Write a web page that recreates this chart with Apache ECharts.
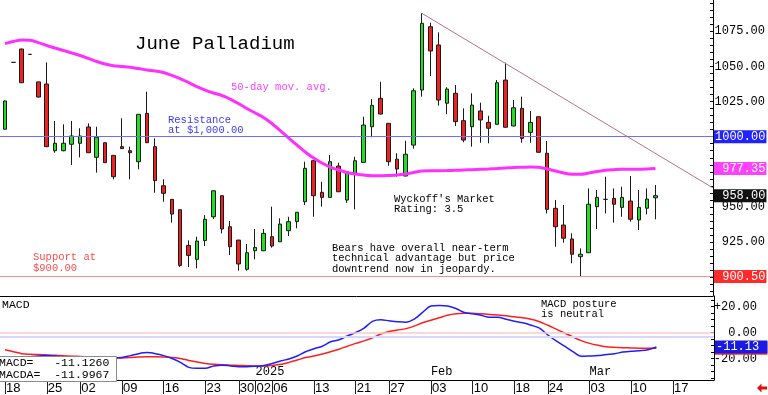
<!DOCTYPE html>
<html><head><meta charset="utf-8">
<script src="https://cdn.jsdelivr.net/npm/echarts@6/dist/echarts.min.js"></script>
<style>html,body{margin:0;padding:0;background:#fff}#c{width:768px;height:395px}</style>
</head><body><div id="c"></div>
<script>
// ---- data ----
const tradingDays = [
'2024-11-18','2024-11-19','2024-11-20','2024-11-21','2024-11-22',
'2024-11-25','2024-11-26','2024-11-27','2024-11-29',
'2024-12-02','2024-12-03','2024-12-04','2024-12-05','2024-12-06',
'2024-12-09','2024-12-10','2024-12-11','2024-12-12','2024-12-13',
'2024-12-16','2024-12-17','2024-12-18','2024-12-19','2024-12-20',
'2024-12-23','2024-12-24','2024-12-26','2024-12-27',
'2024-12-30','2024-12-31','2025-01-02','2025-01-03',
'2025-01-06','2025-01-07','2025-01-08','2025-01-09','2025-01-10',
'2025-01-13','2025-01-14','2025-01-15','2025-01-16','2025-01-17',
'2025-01-21','2025-01-22','2025-01-23','2025-01-24',
'2025-01-27','2025-01-28','2025-01-29','2025-01-30','2025-01-31',
'2025-02-03','2025-02-04','2025-02-05','2025-02-06','2025-02-07',
'2025-02-10','2025-02-11','2025-02-12','2025-02-13','2025-02-14',
'2025-02-18','2025-02-19','2025-02-20','2025-02-21',
'2025-02-24','2025-02-25','2025-02-26','2025-02-27','2025-02-28',
'2025-03-03','2025-03-04','2025-03-05','2025-03-06','2025-03-07',
'2025-03-10','2025-03-11','2025-03-12','2025-03-13',
'2025-03-14','2025-03-17','2025-03-18','2025-03-19','2025-03-20','2025-03-21'];

const opens = [1005.3,1052.9,1062.4,1058.6,1039.0,1037.5,990.0,990.0,994.6,995.3,
1006.9,985.3,995.7,986.7,992.9,990.0,982.2,1016.6,992.9,965.1,
955.4,948.0,922.6,912.7,926.0,943.0,958.0,935.9,926.4,905.6,
918.8,918.8,928.8,925.2,933.1,939.5,953.7,982.9,960.4,956.8,
979.1,954.9,973.9,981.7,1007.1,1027.3,1009.5,984.0,972.0,994.0,
1033.2,1078.3,1065.3,1023.8,1030.9,1011.4,1007.1,1018.3,1010.2,1008.8,
1040.3,1007.6,1020.2,1003.1,1014.2,988.2,949.0,937.1,927.2,914.6,
917.4,950.2,955.4,956.1,949.7,954.2,940.7,949.1,956.5];
const closes = [1025.4,1052.9,1038.4,1058.6,1028.2,992.9,995.3,995.3,1000.5,1000.5,
988.6,999.6,981.5,971.5,991.5,988.6,1015.9,995.7,968.7,959.7,
944.9,908.4,915.5,925.7,941.2,961.5,934.3,921.7,909.4,917.4,
921.2,931.2,922.2,937.8,939.5,946.2,977.5,958.0,956.8,982.2,
960.8,975.1,982.9,1008.3,1022.3,1016.1,982.2,977.0,987.5,1032.7,
1080.7,1061.0,1026.1,1033.9,1010.7,997.6,1022.5,1011.9,1006.0,1038.4,
1006.7,1020.6,998.8,1010.2,988.9,948.3,935.9,927.7,916.3,916.3,
951.9,956.8,955.4,951.9,956.8,941.2,949.7,955.6,958.0];
const lows = [1005.0,1052.9,1038.2,1058.6,1028.0,992.7,988.6,989.6,979.8,985.3,
988.4,974.4,981.3,969.7,991.3,969.7,976.8,995.5,960.1,953.7,
938.8,907.2,907.2,906.3,922.2,941.4,931.2,915.8,904.6,904.6,
912.7,918.6,921.0,925.0,929.3,934.8,951.4,943.0,950.2,956.6,
960.6,952.9,948.3,981.5,999.6,1015.9,979.3,971.5,971.8,991.5,
1028.5,1043.2,1022.1,1016.0,1007.6,996.0,992.9,995.7,995.3,1008.6,
1006.5,1007.4,995.7,995.7,988.7,945.4,921.7,924.5,909.9,900.3,
917.2,934.3,945.4,938.8,943.0,939.5,933.6,944.7,941.2];
const highs = [1025.8,1052.9,1062.6,1058.6,1039.2,1052.9,1011.2,1008.8,1011.2,1006.0,
1009.5,1007.1,995.9,986.9,1013.1,992.9,1016.1,1032.0,998.8,969.7,
955.6,948.2,926.2,928.8,944.2,961.7,958.2,940.0,926.6,923.6,
934.3,934.3,950.2,941.9,943.0,946.4,982.2,983.1,968.0,987.0,
981.5,975.3,985.7,1014.2,1026.8,1039.1,1009.7,988.2,997.1,1034.4,
1087.8,1081.2,1074.3,1035.2,1036.8,1020.2,1030.9,1024.2,1014.9,1040.3,
1052.7,1026.1,1028.5,1018.3,1014.4,996.9,955.0,951.4,931.2,920.5,
963.2,962.0,971.5,963.2,964.4,972.0,962.0,963.2,965.6];

const ma50 = [1066.3,1067.8,1068.8,1068.6,1067.0,1064.9,1063.1,1061.4,1059.6,1057.8,
1055.7,1053.5,1051.7,1050.5,1050.0,1049.4,1048.5,1047.5,1046.8,1045.7,
1043.6,1041.4,1038.6,1035.7,1033.2,1031.1,1029.3,1026.8,1023.6,1020.1,
1016.9,1013.7,1009.4,1004.4,999.1,994.1,989.1,984.8,981.3,978.4,
976.3,974.5,973.4,972.7,972.2,972.2,972.4,972.7,973.4,974.5,
975.6,975.8,975.8,975.9,976.1,976.3,976.5,976.8,977.0,977.3,
977.7,978.1,978.2,978.4,978.2,977.0,975.6,974.1,973.2,973.2,
974.1,975.2,976.1,976.5,976.8,976.8,976.8,977.0,977.35];

const macdLine = [-19,-19,-18.5,-18.5,-18,-17.5,-18,-18.5,-18.5,-18.5,
-18.5,-18.5,-19,-19.5,-19.2,-17.7,-16.2,-15.4,-16.2,-17.7,
-19.9,-22.9,-26.7,-27.4,-27.4,-25.6,-25,-25.6,-26.2,-26.3,
-25.9,-25.2,-23.7,-21.8,-20.3,-18,-14.7,-12.4,-10.5,-7.1,
-5.6,-2.6,0,3.4,8.6,9.8,9,8.3,7.9,10.2,
15.4,20.3,20.7,20.3,18.4,15.4,14.3,13.2,11.7,11.7,
10.2,8.6,7.5,5.6,3.4,-1.9,-6.4,-10.5,-14.7,-18.2,
-18,-17.7,-16.9,-16.2,-15,-14.3,-13.9,-13.2,-11.126];
const macdAvg = [-13.2,-14.7,-16.2,-16.7,-16.9,-17.2,-17.5,-17.8,-18.1,-18.4,
-18.7,-19.0,-19.3,-19.6,-19.5,-19.2,-18.8,-18.6,-18.6,-18.8,
-19.2,-19.9,-21.4,-22.6,-23.7,-24.4,-24.8,-25,-25.2,-25.4,
-25.7,-25.7,-25.2,-24.4,-22.9,-21.1,-19.2,-18,-16.5,-14.7,
-12.8,-10.5,-8.3,-6.4,-4.1,-1.1,0.8,1.9,3,4.9,
7.5,9.4,11.3,13.2,14.3,14.7,14.7,14.3,13.9,13.4,
12.8,12,11.3,10.2,8.3,5.6,2.6,-0.4,-3.4,-6.2,
-8.3,-9.8,-10.9,-11.3,-11.6,-11.8,-12.0,-12.0,-11.9967];

const dayTickIndex = [0,5,9,14,19,24,28,30,32,37,42,46,51,56,61,65,70,75,80];
const periodTickIndex = [30,51,70];
const periodLabels = ['2025','Feb','Mar'];
const priceTickLabels = [900,925,950,1000,1025,1050,1075];
const macdTickLabels = [20,0,-20];
const resistanceLevel = 1000;
const supportLevel = 900.5;
const macdGuideLevels = [0,-3.6];
const trendlinePoints = [[50,1087.8],[84.9,963.5]];

// ---- build ----
const mono = '"Liberation Mono","DejaVu Sans Mono",monospace';
const n = closes.length;
const candleData = closes.map((c,i)=>[i,opens[i],c,lows[i],highs[i]]);
const xMin = -0.6, xMax = 84.9;
const priceMinor = []; for (let v=890; v<=1095; v+=5) priceMinor.push(v);
const macdMinor = []; for (let v=-35; v<=25; v+=5) macdMinor.push(v);
const pad7 = s => s.padStart(7,' ');
const clear = {color:'rgba(0,0,0,0)', width:1, type:'solid'};
function box(bg, text){
  return {show:true, position:'end', distance:1, formatter:text, color:'#fff',
    backgroundColor:bg, fontFamily:mono, fontSize:12, lineHeight:12, padding:[1,1,0,1]};
}
const lastMacd = macdLine[n-1], lastAvg = macdAvg[n-1];

const option = {
  animation:false,
  backgroundColor:'#fff',
  grid:[{left:0,top:0,width:714,height:296},{left:0,top:296,width:714,height:85}],
  xAxis:[
    {type:'value',gridIndex:0,min:xMin,max:xMax,position:'bottom',
     axisLine:{show:true,onZero:false,lineStyle:{color:'#000',width:1}},
     axisTick:{show:false},axisLabel:{show:false},splitLine:{show:false}},
    {type:'value',gridIndex:1,min:xMin,max:xMax,position:'bottom',
     axisLine:{show:true,onZero:false,lineStyle:{color:'#000',width:1}},
     axisTick:{show:true,customValues:dayTickIndex,length:14,lineStyle:{color:'#222'}},
     axisLabel:{show:true,customValues:dayTickIndex,hideOverlap:false,
       formatter:v=>tradingDays[Math.round(v)].slice(8,10),
       align:'left',margin:2,padding:[0,0,0,1],fontFamily:'"Liberation Sans",Arial,sans-serif',fontSize:13,color:'#000'},
     splitLine:{show:false}},
    {type:'value',gridIndex:1,min:xMin,max:xMax,position:'bottom',
     axisLine:{show:false,onZero:false},axisTick:{show:false},
     axisLabel:{show:true,inside:true,customValues:periodTickIndex,hideOverlap:false,
       formatter:v=>periodLabels[periodTickIndex.indexOf(Math.round(v))],
       align:'left',margin:2,fontFamily:mono,fontSize:12,color:'#000'},
     splitLine:{show:false}}
  ],
  yAxis:[
    {type:'value',gridIndex:0,position:'right',min:886.6,max:1097.3,
     axisLine:{show:true,onZero:false,lineStyle:{color:'#000'}},
     axisTick:{show:true,inside:true,length:3,customValues:priceMinor,lineStyle:{color:'#000'}},
     axisLabel:{customValues:priceTickLabels,formatter:v=>v.toFixed(2),align:'right',margin:52,
       fontFamily:mono,fontSize:12,color:'#000'},
     splitLine:{show:false}},
    {type:'value',gridIndex:1,position:'right',min:-36.4,max:28.0,
     axisLine:{show:true,onZero:false,lineStyle:{color:'#000'}},
     axisTick:{show:true,inside:true,length:3,customValues:macdMinor,lineStyle:{color:'#000'}},
     axisLabel:{customValues:macdTickLabels,formatter:v=>(v>0?'+':'')+v.toFixed(2),align:'right',margin:43,
       fontFamily:mono,fontSize:12,color:'#000'},
     splitLine:{show:false}}
  ],
  series:[
    {type:'candlestick',xAxisIndex:0,yAxisIndex:0,data:candleData,encode:{x:0,y:[1,2,3,4]},
     barWidth:4,clip:false,
     itemStyle:{color:'#22dd22',color0:'#ee2020',borderColor:'#1a1a1a',borderColor0:'#1a1a1a',borderColorDoji:'#1a1a1a',borderWidth:1},
     markLine:{symbol:'none',silent:true,animation:false,lineStyle:{type:'solid'},
       data:[
        {yAxis:resistanceLevel,lineStyle:{color:'#6e6eff',width:1,type:'solid'},label:box('#2222ff',pad7(resistanceLevel.toFixed(2)))},
        {yAxis:supportLevel,lineStyle:{color:'#ff8c8c',width:1,type:'solid'},label:box('#ff2a2a',pad7(supportLevel.toFixed(2)))},
        {yAxis:closes[n-1],lineStyle:clear,label:box('#111111',pad7(closes[n-1].toFixed(2)))},
        [{coord:trendlinePoints[0],lineStyle:{color:'#b8708f',width:1,type:'solid'},label:{show:false}},{coord:trendlinePoints[1]}]
       ]}},
    {type:'line',xAxisIndex:0,yAxisIndex:0,data:ma50.map((v,i)=>[i,v]),showSymbol:false,smooth:0.3,
     lineStyle:{color:'#ff30ff',width:3},
     markLine:{symbol:'none',silent:true,animation:false,
       data:[{yAxis:ma50[n-1],lineStyle:clear,label:box('#ff40ff',pad7(ma50[n-1].toFixed(2)))}]}},
    {type:'line',xAxisIndex:1,yAxisIndex:1,data:macdAvg.map((v,i)=>[i,v]),showSymbol:false,smooth:0.3,
     lineStyle:{color:'#ff1e1e',width:1.5},
     markLine:{symbol:'none',silent:true,animation:false,
       data:[
        {yAxis:macdGuideLevels[0],lineStyle:{color:'#ffc8c8',width:1.5,type:'solid'},label:{show:false}},
        {yAxis:macdGuideLevels[1],lineStyle:{color:'#d6d6ff',width:2,type:'solid'},label:{show:false}},
        {yAxis:lastAvg,lineStyle:clear,label:box('#ff2a2a',pad7(lastAvg.toFixed(2)))}
       ]}},
    {type:'line',xAxisIndex:1,yAxisIndex:1,data:macdLine.map((v,i)=>[i,v]),showSymbol:false,smooth:0.3,
     lineStyle:{color:'#1e1eff',width:1.5},
     markLine:{symbol:'none',silent:true,animation:false,
       data:[{yAxis:lastMacd,lineStyle:clear,label:box('#1a1ae0',lastMacd.toFixed(2).padEnd(7,' '))}]}}
  ],
  graphic:[
    {type:'text',z:101,style:{x:135,y:44,text:'June Palladium',font:'19px '+mono,fill:'#000',verticalAlign:'middle',textVerticalAlign:'middle'}},
    {type:'text',z:101,style:{x:231,y:87.5,text:'50-day mov. avg.',font:'10.5px '+mono,fill:'#ff40ff',verticalAlign:'middle',textVerticalAlign:'middle'}},
    {type:'text',z:101,style:{x:168,y:125,text:'Resistance\nat $1,000.00',font:'10.5px '+mono,lineHeight:10,fill:'#3a3aff',verticalAlign:'middle',textVerticalAlign:'middle'}},
    {type:'text',z:101,style:{x:33,y:262.8,text:'Support at\n$900.00',font:'10.5px '+mono,lineHeight:10.5,fill:'#ff4a4a',verticalAlign:'middle',textVerticalAlign:'middle'}},
    {type:'text',z:101,style:{x:394,y:204.3,text:"Wyckoff's Market\nRating: 3.5",font:'10.5px '+mono,lineHeight:10.5,fill:'#000',verticalAlign:'middle',textVerticalAlign:'middle'}},
    {type:'text',z:101,style:{x:332,y:258.5,text:'Bears have overall near-term\ntechnical advantage but price\ndowntrend now in jeopardy.',font:'10.5px '+mono,lineHeight:10.4,fill:'#000',verticalAlign:'middle',textVerticalAlign:'middle'}},
    {type:'text',z:101,style:{x:541,y:308.8,text:'MACD posture\nis neutral',font:'10.5px '+mono,lineHeight:10.1,fill:'#000',verticalAlign:'middle',textVerticalAlign:'middle'}},
    {type:'text',z:101,style:{x:2,y:304.5,text:'MACD',font:'11.5px '+mono,fill:'#000',verticalAlign:'middle',textVerticalAlign:'middle'}},
    {type:'rect',z:100,shape:{x:-1,y:356.5,width:117.5,height:25},style:{fill:'#fff',stroke:'#8a8a8a',lineWidth:1}},
    {type:'text',z:101,style:{x:-1,y:362.5,text:'MACD=   '+lastMacd.toFixed(4),font:'11.5px '+mono,fill:'#000',verticalAlign:'middle',textVerticalAlign:'middle'}},
    {type:'text',z:101,style:{x:-1,y:374.5,text:'MACDA=  '+lastAvg.toFixed(4),font:'11.5px '+mono,fill:'#000',verticalAlign:'middle',textVerticalAlign:'middle'}},
    {type:'polygon',z:101,shape:{points:[[757,388],[761.5,383.5],[761.5,386.5],[767,386.5],[767,389.5],[761.5,389.5],[761.5,392.5]]},style:{fill:'#e01010'}}
  ]
};
const chart = echarts.init(document.getElementById('c'),null,{renderer:'canvas'});
chart.setOption(option);
</script></body></html>
